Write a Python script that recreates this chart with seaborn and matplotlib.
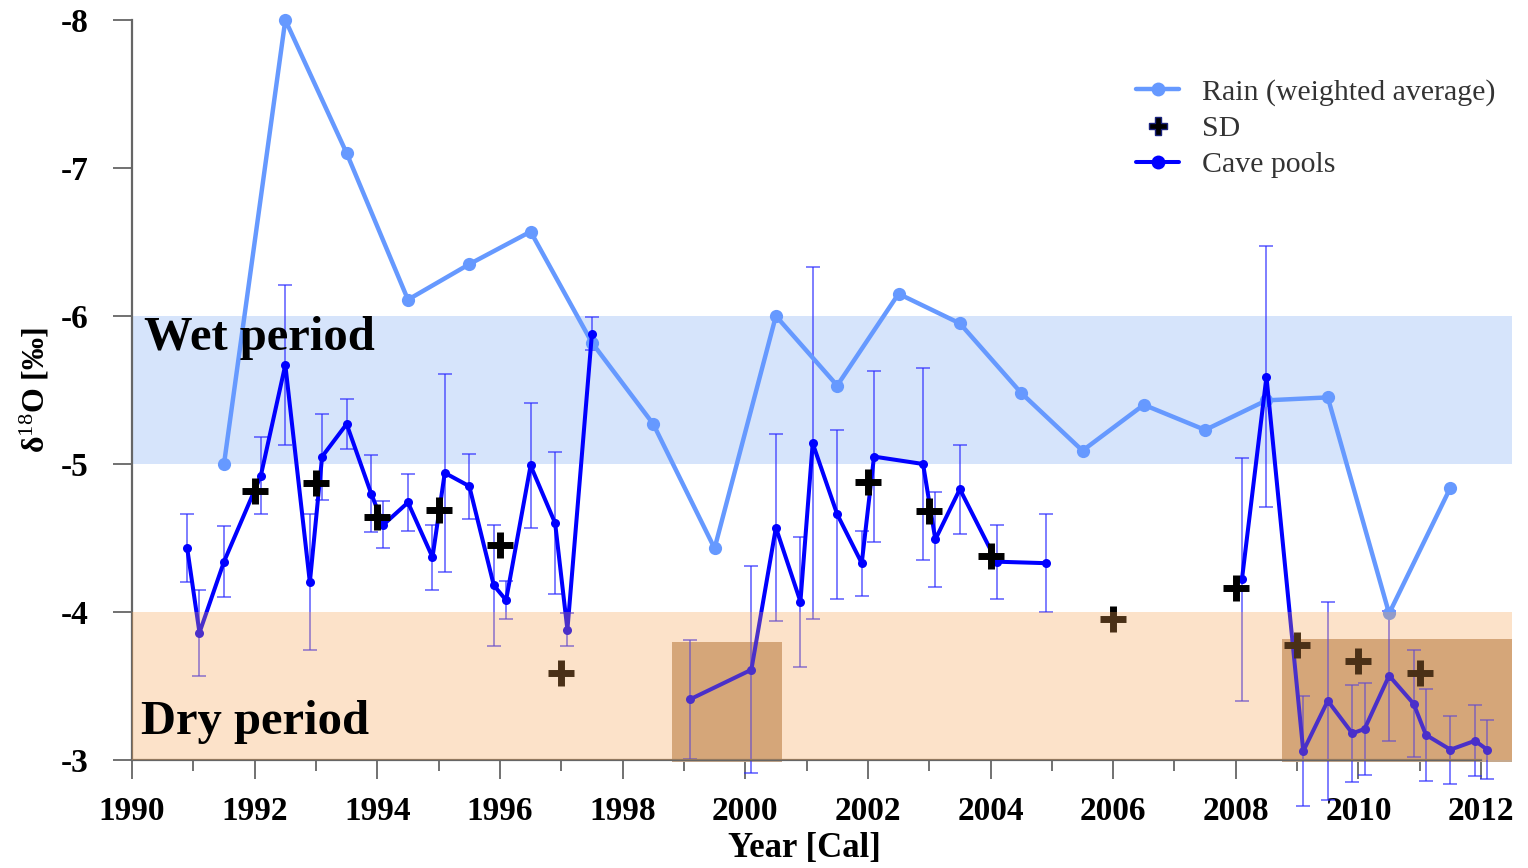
import matplotlib
matplotlib.use("Agg")
import matplotlib.pyplot as plt
from matplotlib.lines import Line2D
from matplotlib.patches import Rectangle
import pandas as pd
import seaborn as sns

# ---- data -------------------------------------------------------------
rain_year = [1991.5, 1992.5, 1993.5, 1994.5, 1995.5, 1996.5, 1997.5, 1998.5,
             1999.5, 2000.5, 2001.5, 2002.5, 2003.5, 2004.5, 2005.5, 2006.5,
             2007.5, 2008.5, 2009.5, 2010.5, 2011.5]
rain_d18o = [-5.00, -8.00, -7.10, -6.11, -6.35, -6.57, -5.82, -5.27,
             -4.43, -6.00, -5.53, -6.15, -5.95, -5.48, -5.09, -5.40,
             -5.23, -5.43, -5.45, -3.99, -4.84]

cave_year = [1990.9, 1991.1, 1991.5, 1992.1, 1992.5, 1992.9, 1993.1, 1993.5,
             1993.9, 1994.1, 1994.5, 1994.9, 1995.1, 1995.5, 1995.9, 1996.1,
             1996.5, 1996.9, 1997.1, 1997.5,
             1999.1, 2000.1, 2000.5, 2000.9, 2001.1, 2001.5, 2001.9, 2002.1,
             2002.9, 2003.1, 2003.5, 2004.1, 2004.9,
             2008.1, 2008.5, 2009.1, 2009.5, 2009.9, 2010.1, 2010.5, 2010.9,
             2011.1, 2011.5, 2011.9, 2012.1]
cave_d18o = [-4.43, -3.86, -4.34, -4.92, -5.67, -4.20, -5.05, -5.27,
             -4.80, -4.59, -4.74, -4.37, -4.94, -4.85, -4.18, -4.08,
             -4.99, -4.60, -3.88, -5.88,
             -3.41, -3.61, -4.57, -4.07, -5.14, -4.66, -4.33, -5.05,
             -5.00, -4.49, -4.83, -4.34, -4.33,
             -4.22, -5.59, -3.06, -3.40, -3.18, -3.21, -3.57, -3.38,
             -3.17, -3.07, -3.13, -3.07]
cave_sd = [0.23, 0.29, 0.24, 0.26, 0.54, 0.46, 0.29, 0.17,
           0.26, 0.16, 0.19, 0.22, 0.67, 0.22, 0.41, 0.13,
           0.42, 0.48, 0.11, 0.11,
           0.40, 0.70, 0.63, 0.44, 1.19, 0.57, 0.22, 0.58,
           0.65, 0.32, 0.30, 0.25, 0.33,
           0.82, 0.88, 0.37, 0.67, 0.33, 0.31, 0.44, 0.36,
           0.31, 0.23, 0.24, 0.20]
cave_segment = [1] * 20 + [2] * 13 + [3] * 12

sd_year = [1992, 1993, 1994, 1995, 1996, 1997, 2002, 2003, 2004, 2006,
           2008, 2009, 2010, 2011]
sd_d18o = [-4.82, -4.87, -4.64, -4.69, -4.45, -3.59, -4.88, -4.68, -4.38,
           -3.95, -4.16, -3.78, -3.67, -3.59]

legend_labels = ["Rain (weighted average)", "SD", "Cave pools"]

# ---- style ------------------------------------------------------------
sns.set_style("ticks")
plt.rcParams["font.family"] = ["Liberation Serif", "DejaVu Serif"]
plt.rcParams["text.color"] = "black"
plt.rcParams["xtick.labelcolor"] = "black"
plt.rcParams["ytick.labelcolor"] = "black"
plt.rcParams["axes.labelcolor"] = "black"
plt.rcParams["mathtext.fontset"] = "custom"
plt.rcParams["mathtext.rm"] = "Liberation Serif"
plt.rcParams["mathtext.it"] = "Liberation Serif:italic"
plt.rcParams["mathtext.bf"] = "Liberation Serif:bold"

RAIN = "#6699ff"
CAVE = "#0000ff"
WET = "#d6e4fb"
DRY = (248 / 255, 162 / 255, 78 / 255)
BOX = (198 / 255, 169 / 255, 141 / 255)
AXIS_GREY = "#666666"

rain = pd.DataFrame({"year": rain_year, "d18o": rain_d18o})
cave = pd.DataFrame({"year": cave_year, "d18o": cave_d18o, "sd": cave_sd,
                     "segment": cave_segment})
sd = pd.DataFrame({"year": sd_year, "d18o": sd_d18o})

fig = plt.figure(figsize=(15.28, 8.68), dpi=100)
ax = fig.add_axes([0.0864, 0.1244, 0.8829, 0.8526])

# wet band behind everything
ax.add_patch(Rectangle((1990, -6.0), 22.5, 1.0, facecolor=WET, edgecolor="none",
                       zorder=0.5, clip_on=False))
# darker boxes in the dry band
for x0, x1, top in [(1998.8, 2000.6, -3.80), (2008.75, 2012.5, -3.82)]:
    ax.add_patch(Rectangle((x0, -2.99), x1 - x0, top + 2.99, facecolor=BOX,
                           edgecolor="none", zorder=0.8, clip_on=False))

# cave pool error bars
eb = ax.errorbar(cave["year"], cave["d18o"], yerr=cave["sd"], fmt="none",
                 ecolor="#2a2aff", alpha=0.7, elinewidth=1.2, capsize=5,
                 capthick=1.2, zorder=2)
for art in eb.get_children():
    art.set_clip_on(False)

sns.lineplot(data=rain, x="year", y="d18o", color=RAIN, linewidth=3.2,
             marker="o", markersize=9.5, markeredgewidth=0, ax=ax, zorder=3,
             clip_on=False, legend=False)
sns.lineplot(data=cave, x="year", y="d18o", units="segment", estimator=None,
             color=CAVE, linewidth=2.9, marker="o", markersize=6.5,
             markeredgewidth=0, ax=ax, zorder=3.5, clip_on=False, legend=False)
sns.scatterplot(data=sd, x="year", y="d18o", marker="+", s=340, linewidth=5,
                color="black", ax=ax, zorder=4, clip_on=False, legend=False)

# translucent dry band over the data
ax.add_patch(Rectangle((1990, -4.0), 22.5, 1.0, facecolor=DRY, alpha=0.3,
                       edgecolor="none", zorder=5, clip_on=False))

ax.text(1990.2, -5.85, "Wet period", fontsize=35, fontweight="bold",
        ha="left", va="center", zorder=6)
ax.text(1990.15, -3.26, "Dry period", fontsize=35, fontweight="bold",
        ha="left", va="center", zorder=6)

# axes
ax.set_xlim(1990, 2012)
ax.set_ylim(-3, -8)
ax.set_xticks(range(1990, 2013, 2))
ax.set_xticks(range(1991, 2013, 2), minor=True)
ax.set_yticks([-8, -7, -6, -5, -4, -3])
ax.set_yticklabels(["-8", "-7", "-6", "-5", "-4", "-3"])
ax.tick_params(axis="both", which="major", length=14, width=1.3,
               color=AXIS_GREY, labelsize=24, direction="out")
ax.tick_params(axis="x", which="minor", length=8, width=1.3, color=AXIS_GREY,
               direction="out")
ax.tick_params(axis="y", which="major", pad=17)
ax.tick_params(axis="x", which="major", pad=12)
for lab in ax.get_xticklabels() + ax.get_yticklabels():
    lab.set_fontweight("bold")
sns.despine(ax=ax)
for side in ["left", "bottom"]:
    ax.spines[side].set_color(AXIS_GREY)
    ax.spines[side].set_linewidth(1.6)

ax.set_xlabel("Year [Cal]", fontsize=25, fontweight="bold")
ax.xaxis.set_label_coords((804 / 1528 - 0.0864) / 0.8829, -0.097)
ax.set_ylabel("")
fig.text(35 / 1528, 1 - 390 / 868, "δ$^{18}$O [‰]", rotation=90,
         fontsize=23, fontweight="bold", ha="center", va="center")

handles = [
    Line2D([], [], color=RAIN, lw=3.2, marker="o", ms=10, mew=0),
    Line2D([], [], ls="none", marker="P", ms=13, color="black",
           markeredgecolor="#1a237e", mew=1),
    Line2D([], [], color=CAVE, lw=2.9, marker="o", ms=10, mew=0),
]
leg = fig.legend(handles, legend_labels, loc="upper left",
                 bbox_to_anchor=(1136 / 1528, 1 - 79 / 868), frameon=False,
                 fontsize=21.5, handlelength=1.45, handletextpad=0.75,
                 labelspacing=0.3, borderaxespad=0, borderpad=0)
for t in leg.get_texts():
    t.set_color("#333333")

fig.savefig("out.png", dpi=100)
